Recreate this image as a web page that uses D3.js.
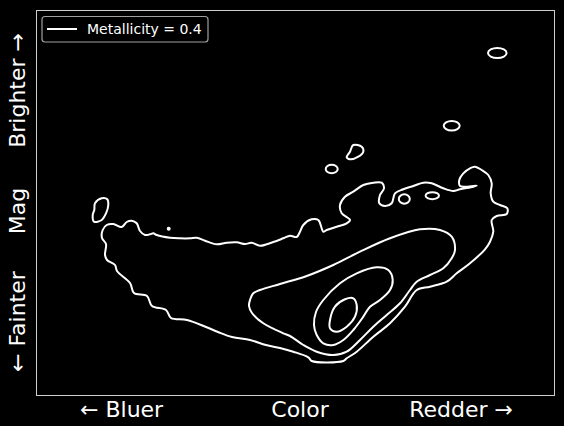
<!DOCTYPE html>
<head>
    <meta charset="utf-8">
    <script src="https://d3js.org/d3.v7.min.js"></script>
    <style>
        body { margin: 0; background: #000; }
        text { font-family: "DejaVu Sans", sans-serif; }
    </style>
</head>

<body>
    <div id="contours"></div>
</body>

<script>

    // contour lines, [color, mag] in plot units
    const level1Main = [
        [66.7,165],[70.7,170],[77.3,171],[85.7,168],[90.7,173],[95.7,174.3],[100.7,171.7],[104,164],
        [109,160],[114,160.7],[117.3,161.7],[120.7,160],[134,157.3],[144,156.7],[154,156.7],[160.7,157.3],
        [169,154.3],[180.7,150.7],[190.7,152.3],[200.7,152.7],[209,151],[215.7,152.3],[224,149.3],[237.3,153],
        [247.3,156.7],[254,159.3],[260.7,158],[264,163.3],[267.3,170],[275.7,175.7],[282.3,175],[285.7,166.7],
        [287.3,163.3],[290.7,165],[300.7,168.3],[310.7,171.7],[314,175],[305.7,181.7],[304,190],[309,198.3],
        [317.3,203.3],[327.3,210],[337.3,212.3],[345.7,212.3],[348,206.7],[344,200],[343.3,191.7],[349,189],
        [355.7,191.7],[359,201.7],[367.3,205.7],[377.3,209],[387.3,212.3],[395.7,211.7],[407.3,206.7],[417.3,204],
        [424,205.7],[437.3,208.3],[440.7,209.3],[430.7,208.3],[424,209],[423.3,215],[427.3,221.7],[434,226.7],
        [439,228.3],[445.7,225],[452.3,220],[455.7,211.7],[454.7,201.7],[457.3,193.3],[464,190],[471.3,186.7],
        [470.7,181],[460.7,179],[455.7,175],[457.3,163.3],[454,153.3],[449,145.7],[434,131.7],[420.7,121.7],
        [410.7,113.3],[394,108.3],[380.7,105],[369,88.3],[354,71.7],[337.3,58.3],[320.7,43.3],[310.7,36.7],
        [307.3,34],[275.7,34],[272.3,37.7],[257.3,43.3],[244,47],[230,50],[214,55],[196,58],
        [182,63],[170,68],[151,75],[135,77],[130,85],[116,89],[111,99],[98,102],
        [94,112],[81,124],[79,130],[71,135],[69,140],[70,151],[66,157]
    ];
    const level1Left = [
        [59,191.7],[65.7,196.7],[71.3,195.7],[72.3,190],[70,181.7],[65.7,175],[58,173.3],[56.7,180],[58.3,185]
    ];
    const level1Drop = [
        [317.3,250],[325.7,248.3],[327.3,243.3],[322.3,238.3],[314,235.7],[310.7,237.7],[314,243.3]
    ];
    const level2 = [
        [214,95],[217,101.5],[224,105],[244,111],[270.7,119],[297.3,130],[324,143.3],[354,156.7],
        [384,165.7],[404,165],[415.7,158.3],[419,145],[415.7,136.7],[407.3,126.7],[394,120],[380.7,113.3],
        [374,105],[364,91.7],[350.7,80],[337.3,68.3],[324,55],[310.7,43.3],[297.3,40],[280.7,43.3],
        [267.3,50],[254,59],[247.3,61.7],[227.3,71.7],[216,82],[213,89]
    ];
    const level3 = [
        [278,70],[280,83],[287.3,95],[304,111.7],[320.7,121.7],[340.7,127.7],[352.3,125],[356.7,115],
        [354,105],[344,95],[334,88.3],[327.3,78.3],[317.3,65],[307.3,55],[297.3,50],[287.3,51.7],[280.7,60]
    ];
    const level4 = [
        [294,75],[299,88.3],[309,95.7],[317.3,96.7],[320.7,90],[319,78.3],[310.7,68.3],[300.7,63.3],[294,66.7]
    ];
    // small isolated islands: [cx, cy, rx, ry]
    const islands = [
        [461.3,342,9.3,5],
        [415.7,269.3,8,4.7],
        [295.7,226,6,4.3],
        [368.3,196,5.5,4.7],
        [396.3,199.3,6.7,3.5],
        [132.7,166.3,1,1]
    ];

    const xLabels = ["← Bluer", "Color", "Redder →"];
    const yLabels = ["← Fainter", "Mag", "Brighter →"];
    const legendLabel = "Metallicity = 0.4";

    const W = 564, H = 426;
    const margin = {top: 10, right: 10, bottom: 31, left: 36},
        width = W - margin.left - margin.right,
        height = H - margin.top - margin.bottom;

    const root = d3.select("#contours")
        .append("svg")
            .attr("width", W)
            .attr("height", H)
            .style("background", "#000");

    const svg = root.append("g")
        .attr("transform", `translate(${margin.left},${margin.top})`);

    const x = d3.scaleLinear()
        .domain([0, 518])
        .range([0, width]);
    const y = d3.scaleLinear()
        .domain([0, 385])
        .range([height, 0]);

    const line = d3.line()
        .x(d => x(d[0]))
        .y(d => y(d[1]))
        .curve(d3.curveCatmullRomClosed.alpha(0.5));

    const paths = [level1Main, level1Left, level1Drop, level2, level3, level4];

    svg.selectAll(".contour")
        .data(paths)
        .join("path")
            .attr("class", "contour")
            .attr("fill", "none")
            .attr("stroke", "#fff")
            .attr("stroke-width", 2)
            .attr("d", d => line(d));

    svg.selectAll(".island")
        .data(islands)
        .join("ellipse")
            .attr("class", "island")
            .attr("fill", "none")
            .attr("stroke", "#fff")
            .attr("stroke-width", 2)
            .attr("cx", d => x(d[0]))
            .attr("cy", d => y(d[1]))
            .attr("rx", d => x(d[2]) - x(0))
            .attr("ry", d => y(0) - y(d[3]));

    // frame
    svg.append("rect")
        .attr("x", 0.5)
        .attr("y", 0.5)
        .attr("width", width)
        .attr("height", height)
        .attr("fill", "none")
        .attr("stroke", "#cfcfcf")
        .attr("stroke-width", 1);

    // x label
    const xl = root.append("g").attr("fill", "#fff").attr("font-size", 22);
    xl.append("text").attr("x", 80).attr("y", 417).attr("text-anchor", "start").text(xLabels[0]);
    xl.append("text").attr("x", 300).attr("y", 417).attr("text-anchor", "middle").text(xLabels[1]);
    xl.append("text").attr("x", 513).attr("y", 417).attr("text-anchor", "end").text(xLabels[2]);

    // y label
    const yl = root.append("g").attr("fill", "#fff").attr("font-size", 22);
    yl.append("text").attr("transform", "translate(25,372) rotate(-90)").attr("text-anchor", "start").text(yLabels[0]);
    yl.append("text").attr("transform", "translate(25,211) rotate(-90)").attr("text-anchor", "middle").text(yLabels[1]);
    yl.append("text").attr("transform", "translate(25,33) rotate(-90)").attr("text-anchor", "end").text(yLabels[2]);

    // legend
    const lg = root.append("g");
    lg.append("rect")
        .attr("x", 42).attr("y", 16.5)
        .attr("width", 166).attr("height", 25.5)
        .attr("rx", 3)
        .attr("fill", "#000")
        .attr("stroke", "#a0a0a0")
        .attr("stroke-width", 1.2);
    lg.append("line")
        .attr("x1", 47).attr("x2", 77)
        .attr("y1", 29).attr("y2", 29)
        .attr("stroke", "#fff")
        .attr("stroke-width", 2);
    lg.append("text")
        .attr("x", 87).attr("y", 34)
        .attr("fill", "#fff")
        .attr("font-size", 14)
        .text(legendLabel);

</script>
</html>
